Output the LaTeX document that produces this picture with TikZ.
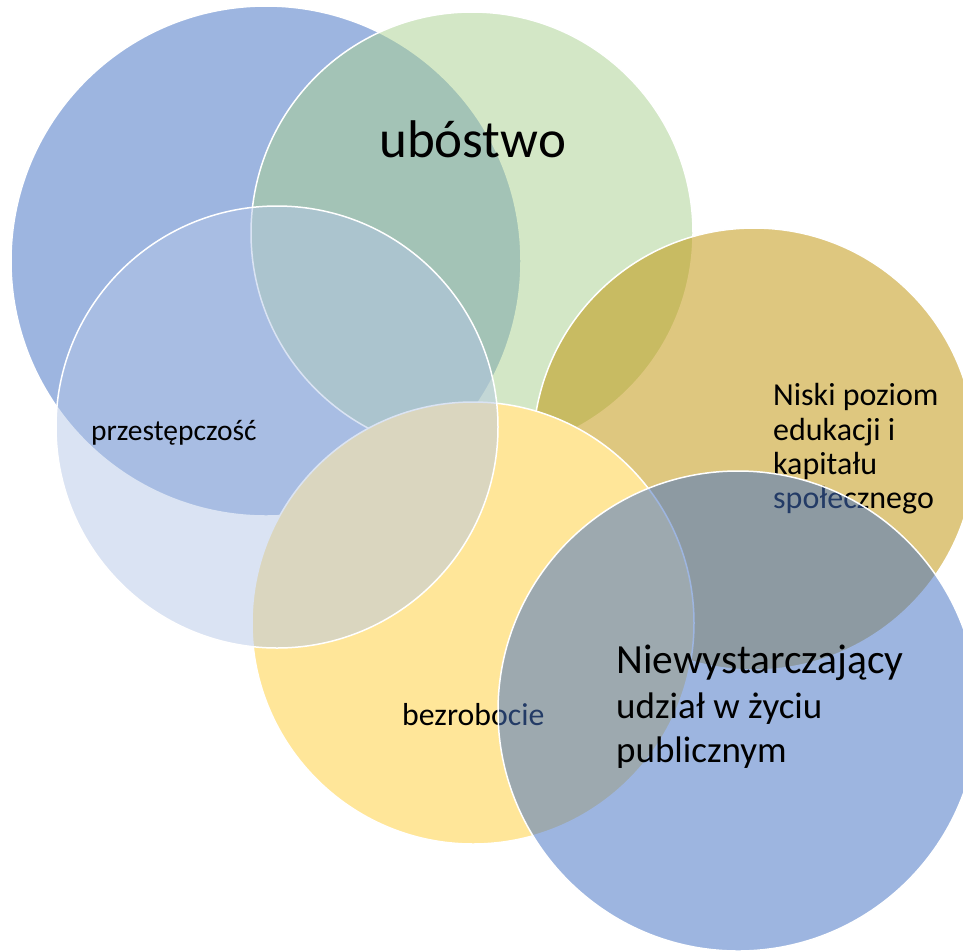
\documentclass[tikz,border=0pt]{standalone}
\usepackage{fontspec}
\setmainfont{Carlito}
\definecolor{cblue}{HTML}{4472C4}
\definecolor{cgreen}{HTML}{A9D18E}
\definecolor{clight}{HTML}{B4C7E7}
\definecolor{cgold}{HTML}{BF9000}
\definecolor{cyellow}{HTML}{FFE699}
\begin{document}
\begin{tikzpicture}[x=1pt,y=-1pt,
  ring/.style={circle, draw=white, line width=1.5pt, inner sep=0pt, outer sep=0pt},
  lbl/.style={anchor=base west, inner sep=0pt, text=black},
  fs/.style={font=\fontsize{#1pt}{#1pt}\selectfont}]
\clip (0,0) rectangle (963,951);
\fill[white] (0,0) rectangle (963,951);
% top-left blue
\node[ring, fill=cblue, fill opacity=0.52, minimum size=510pt] (cA) at (266,261) {};
% green
\node[ring, fill=cgreen, fill opacity=0.5, minimum size=442pt] (cB) at (472,233) {};
\node[lbl, fs=53] (tB) at (379,157) {ubóstwo};
% gold
\node[ring, fill=cgold, fill opacity=0.5, minimum size=442pt] (cC) at (754,449) {};
\node[lbl, fs=32] (tC1) at (773,405) {Niski poziom};
\node[lbl, fs=32] (tC2) at (773,440) {edukacji i};
\node[lbl, fs=32] (tC3) at (773,474) {kapitału};
\node[lbl, fs=32] (tC4) at (773,508) {społecznego};
% yellow
\node[ring, fill=cyellow, minimum size=442pt] (cD) at (473,623) {};
\node[lbl, fs=31.8] (tD) at (402,725) {bezrobocie};
% light blue
\node[ring, fill=clight, fill opacity=0.49, minimum size=442pt] (cE) at (277,427) {};
\node[lbl, fs=29.5] (tE) at (91,440) {przestępczość};
% bottom-right blue
\node[ring, fill=cblue, fill opacity=0.52, minimum size=480pt] (cF) at (738,711) {};
\node[lbl, fs=41.5] (tF1) at (616,673) {Niewystarczający};
\node[lbl, fs=37] (tF2) at (616,718) {udział w życiu};
\node[lbl, fs=37] (tF3) at (616,762) {publicznym};
\end{tikzpicture}
\end{document}
